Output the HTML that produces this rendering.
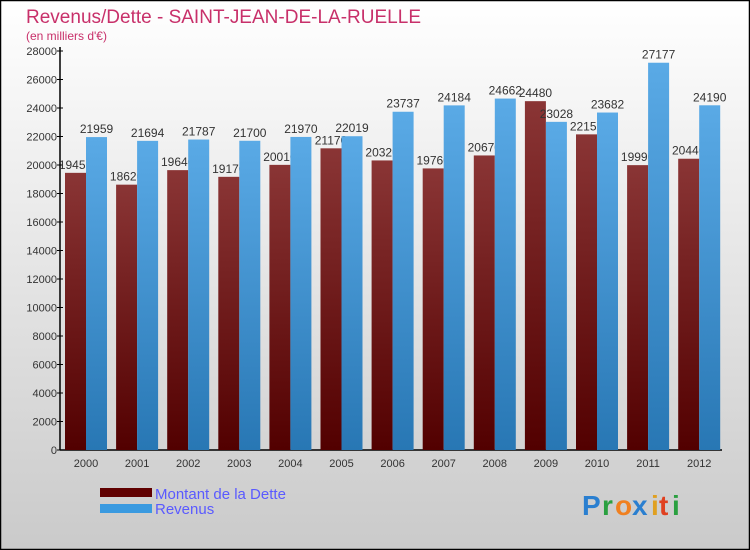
<!DOCTYPE html>
<html><head><meta charset="utf-8"><style>
body{margin:0;}
#wrap{width:750px;height:550px;position:relative;overflow:hidden;}
svg text{font-family:"Liberation Sans",sans-serif;}
</style></head><body>
<div id="wrap">
<svg id="svg" width="750" height="550" xmlns="http://www.w3.org/2000/svg">
<defs>
<linearGradient id="bg" x1="0" y1="0" x2="0" y2="1"><stop offset="0" stop-color="#ffffff"/><stop offset="1" stop-color="#cacaca"/></linearGradient>
<linearGradient id="red" x1="0" y1="0" x2="0" y2="1"><stop offset="0" stop-color="#8a3535"/><stop offset="1" stop-color="#520000"/></linearGradient>
<linearGradient id="blue" x1="0" y1="0" x2="0" y2="1"><stop offset="0" stop-color="#5aaae6"/><stop offset="1" stop-color="#2877b4"/></linearGradient>
</defs>
<rect x="0.5" y="0.5" width="749" height="549" fill="url(#bg)" stroke="#000" stroke-width="1.5"/>
<text x="26" y="23" font-size="19" fill="#c8306a" textLength="395">Revenus/Dette - SAINT-JEAN-DE-LA-RUELLE</text>
<text x="26" y="40" font-size="12" fill="#c8306a">(en milliers d'€)</text>
<g id="plot"></g>
<rect x="100" y="488" width="52" height="9" fill="#600000"/>
<text x="155" y="499" font-size="15" fill="#5a5aff">Montant de la Dette</text>
<rect x="100" y="504" width="52" height="9" fill="#3a9ae0"/>
<text x="155" y="514" font-size="15" fill="#5a5aff">Revenus</text>
<g font-size="28" font-weight="bold">
<text x="582" y="515" fill="#2a7fd0">P</text><text x="602" y="515" fill="#2aa040">r</text><text x="615" y="515" fill="#f08020">o</text><text x="632" y="515" fill="#2a7fd0">x</text><text x="651" y="515" fill="#e0a020">i</text><text x="659" y="515" fill="#e04020">t</text><text x="672" y="515" fill="#2aa040">i</text>
</g>
</svg></div>
<script>
const years=["2000","2001","2002","2003","2004","2005","2006","2007","2008","2009","2010","2011","2012"];
const dette=[19450,18620,19640,19170,20010,21170,20320,19760,20670,24480,22150,19990,20440];
const revenus=[21959,21694,21787,21700,21970,22019,23737,24184,24662,23028,23682,27177,24190];
const yTicks=[0,2000,4000,6000,8000,10000,12000,14000,16000,18000,20000,22000,24000,26000,28000];
const NS="http://www.w3.org/2000/svg";
const g=document.getElementById('plot');
const y0=450,y1=51,vmax=28000;
function yS(v){return y0-(v/vmax)*(y0-y1);}
function xS(i){return 65+i*51.1;}
const bw=21;
function mk(t,a){const e=document.createElementNS(NS,t);for(const k in a)e.setAttribute(k,a[k]);g.appendChild(e);return e;}
// axis
let ax=mk('line',{x1:60,y1:y1-4,x2:60,y2:y0,stroke:'#000','stroke-width':1.5});


let bx=mk('line',{x1:60,y1:y0,x2:722,y2:y0,stroke:'#000','stroke-width':1.5});


yTicks.forEach(v=>{
 let tk=mk('line',{x1:57,x2:63,y1:yS(v),y2:yS(v),stroke:'#000'});
 
 
 let t=mk('text',{x:57,y:yS(v)+4,'font-size':11,fill:'#333','text-anchor':'end'});
 t.textContent=v;
 
 
});
years.forEach((yr,i)=>{
 const x=xS(i);
 let r=mk('rect',{x:x,y:yS(dette[i]),width:bw,height:y0-yS(dette[i]),fill:'url(#red)'});
 
 
 let t=mk('text',{x:x+bw/2,y:yS(dette[i])-4,'font-size':12,fill:'#333','text-anchor':'middle'});
 t.textContent=dette[i];
 
 
});
years.forEach((yr,i)=>{
 const x=xS(i)+bw;
 let r=mk('rect',{x:x,y:yS(revenus[i]),width:bw,height:y0-yS(revenus[i]),fill:'url(#blue)'});
 
 
 let t=mk('text',{x:x+bw/2,y:yS(revenus[i])-4,'font-size':12,fill:'#333','text-anchor':'middle'});
 t.textContent=revenus[i];
 
 
 let xl=mk('text',{x:xS(i)+bw,y:467,'font-size':11,fill:'#333','text-anchor':'middle'});
 xl.textContent=yr;
 
 
});
</script>
</body></html>
